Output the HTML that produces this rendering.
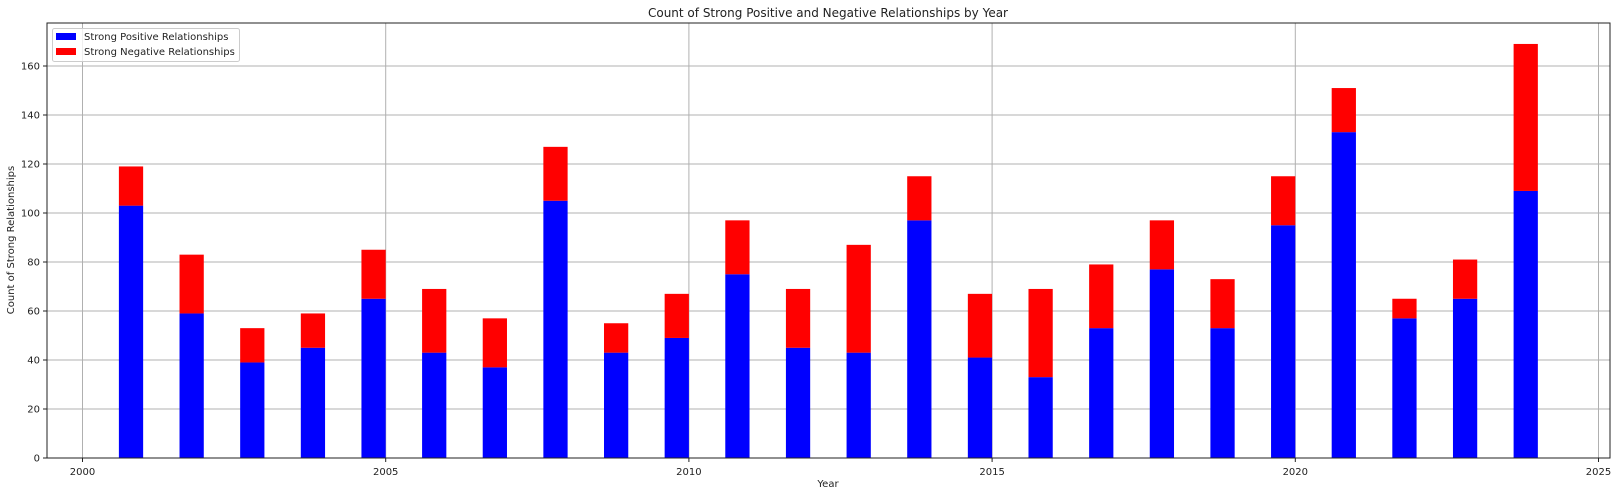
<!DOCTYPE html>
<html><head><meta charset="utf-8"><style>
body{margin:0;background:#fff;font-family:"Liberation Sans","DejaVu Sans",sans-serif;}
svg text{font-family:"DejaVu Sans","Liberation Sans",sans-serif;fill:#222;}
</style></head><body>
<svg id="chart" width="1619" height="496" xmlns="http://www.w3.org/2000/svg"></svg>
<script>
const years=[2001,2002,2003,2004,2005,2006,2007,2008,2009,2010,2011,2012,2013,2014,2015,2016,2017,2018,2019,2020,2021,2022,2023,2024];
const positive=[103,59,39,45,65,43,37,105,43,49,75,45,43,97,41,33,53,77,53,95,133,57,65,109];
const negative=[16,24,14,14,20,26,20,22,12,18,22,24,44,18,26,36,26,20,20,20,18,8,16,60];
const xTicks=[2000,2005,2010,2015,2020,2025];
const yTicks=[0,20,40,60,80,100,120,140,160];
const L=47,R=1610,T=23,B=458;
const X=v=>82.5+(v-2000)*60.64;
const Y=v=>B-v*2.45;
const NS="http://www.w3.org/2000/svg";
const svg=document.getElementById('chart');
function mk(t,a,p){const e=document.createElementNS(NS,t);for(const k in a)e.setAttribute(k,a[k]);(p||svg).appendChild(e);return e;}
// grid
xTicks.forEach(t=>{
 const g=mk('line',{x1:X(t),x2:X(t),y1:T,y2:B,stroke:'#b0b0b0','stroke-width':1});
 
 
 mk('line',{x1:X(t),x2:X(t),y1:B,y2:B+4,stroke:'#222'});
 const tx=mk('text',{x:X(t),y:B+17,'text-anchor':'middle','font-size':10});tx.textContent=t;
 
 
});
yTicks.forEach(t=>{
 const g=mk('line',{x1:L,x2:R,y1:Y(t),y2:Y(t),stroke:'#b0b0b0','stroke-width':1});
 
 
 mk('line',{x1:L-4,x2:L,y1:Y(t),y2:Y(t),stroke:'#222'});
 const tx=mk('text',{x:L-7,y:Y(t)+3.5,'text-anchor':'end','font-size':10});tx.textContent=t;
 
 
});
// bars
years.forEach((yr,i)=>{
 const x0=X(yr-0.4),w=X(yr)-x0;
 const b=mk('rect',{x:x0,y:Y(positive[i]),width:w,height:Y(0)-Y(positive[i]),fill:'#0000ff'});
 
 
 const r=mk('rect',{x:x0,y:Y(positive[i]+negative[i]),width:w,height:Y(positive[i])-Y(positive[i]+negative[i]),fill:'#ff0000'});
 
 
});
mk('rect',{x:L,y:T,width:R-L,height:B-T,fill:'none',stroke:'#222','stroke-width':1});
</script>
<svg width="1619" height="496" style="position:absolute;left:0;top:0" xmlns="http://www.w3.org/2000/svg">
<text x="828" y="17" text-anchor="middle" font-size="12">Count of Strong Positive and Negative Relationships by Year</text>
<text x="828" y="487" text-anchor="middle" font-size="10">Year</text>
<text transform="translate(14,240) rotate(-90)" text-anchor="middle" font-size="10">Count of Strong Relationships</text>
<g>
<rect x="52.5" y="28.5" width="187" height="33" rx="2" fill="#fff" fill-opacity="0.8" stroke="#ccc"/>
<rect x="56" y="33" width="20" height="7" fill="#0000ff"/>
<text x="84" y="40" font-size="10">Strong Positive Relationships</text>
<rect x="56" y="48" width="20" height="7" fill="#ff0000"/>
<text x="84" y="55" font-size="10">Strong Negative Relationships</text>
</g>
</svg>
</body></html>
